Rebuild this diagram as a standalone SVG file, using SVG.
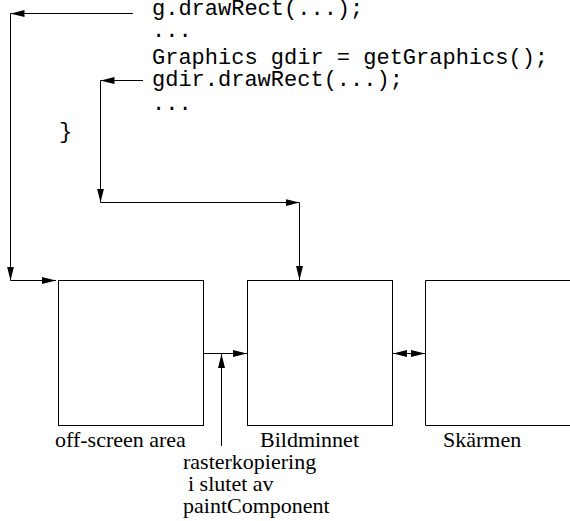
<svg xmlns="http://www.w3.org/2000/svg" width="570" height="521" viewBox="0 0 570 521">
<defs>
<marker id="ah" markerUnits="userSpaceOnUse" markerWidth="14" markerHeight="8" refX="14" refY="3.5" orient="auto-start-reverse" viewBox="0 0 14 7">
<path d="M0,0 L14,3.5 L0,7 z" fill="#000"/>
</marker>
</defs>
<style>
.box{fill:#fff;stroke:#000;stroke-width:1}
.c{fill:none;stroke:#000;stroke-width:1}
.code{font-family:"Liberation Mono","Courier New",monospace;font-size:22px;fill:#000}
.lbl{font-family:"Liberation Serif","Times New Roman",serif;font-size:22px;fill:#000}
</style>
<rect width="570" height="521" fill="#fff"/>
<g id="code">
<text class="code" x="152" y="15" xml:space="preserve">g.drawRect(...);</text>
<text class="code" x="152" y="37">...</text>
<text class="code" x="152" y="64" xml:space="preserve">Graphics gdir = getGraphics();</text>
<text class="code" x="152" y="86">gdir.drawRect(...);</text>
<text class="code" x="152" y="110">...</text>
<text class="code" x="59" y="138">}</text>
</g>
<g id="offscreen">
<rect class="box" x="58.5" y="280.5" width="145" height="145"/>
<text class="lbl" x="55" y="447">off-screen area</text>
</g>
<g id="bildminnet">
<rect class="box" x="247.5" y="280.5" width="145" height="145"/>
<text class="lbl" x="260" y="447">Bildminnet</text>
</g>
<g id="skarmen">
<path class="box" d="M575,280.5 H425.5 V425.5 H575"/>
<text class="lbl" x="443" y="447">Skärmen</text>
</g>
<g id="rasterlabel">
<text class="lbl" x="183" y="469">rasterkopiering</text>
<text class="lbl" x="188" y="491">i slutet av</text>
<text class="lbl" x="183" y="513">paintComponent</text>
</g>
<g id="connectors">
<line class="c" x1="133" y1="13.5" x2="10.5" y2="13.5" marker-end="url(#ah)"/>
<line class="c" x1="10.5" y1="13.5" x2="10.5" y2="280.5" marker-end="url(#ah)"/>
<line class="c" x1="10.5" y1="280.5" x2="56" y2="280.5" marker-end="url(#ah)"/>
<line class="c" x1="143" y1="80.5" x2="100.5" y2="80.5" marker-end="url(#ah)"/>
<line class="c" x1="100.5" y1="80.5" x2="100.5" y2="202.5" marker-end="url(#ah)"/>
<line class="c" x1="100.5" y1="202.5" x2="299.5" y2="202.5" marker-end="url(#ah)"/>
<line class="c" x1="299.5" y1="202.5" x2="299.5" y2="280" marker-end="url(#ah)"/>
<line class="c" x1="203.5" y1="353.5" x2="247" y2="353.5" marker-end="url(#ah)"/>
<line class="c" x1="221.5" y1="446" x2="221.5" y2="354" marker-end="url(#ah)"/>
<line class="c" x1="393" y1="353.5" x2="425" y2="353.5" marker-start="url(#ah)" marker-end="url(#ah)"/>
</g>
</svg>
